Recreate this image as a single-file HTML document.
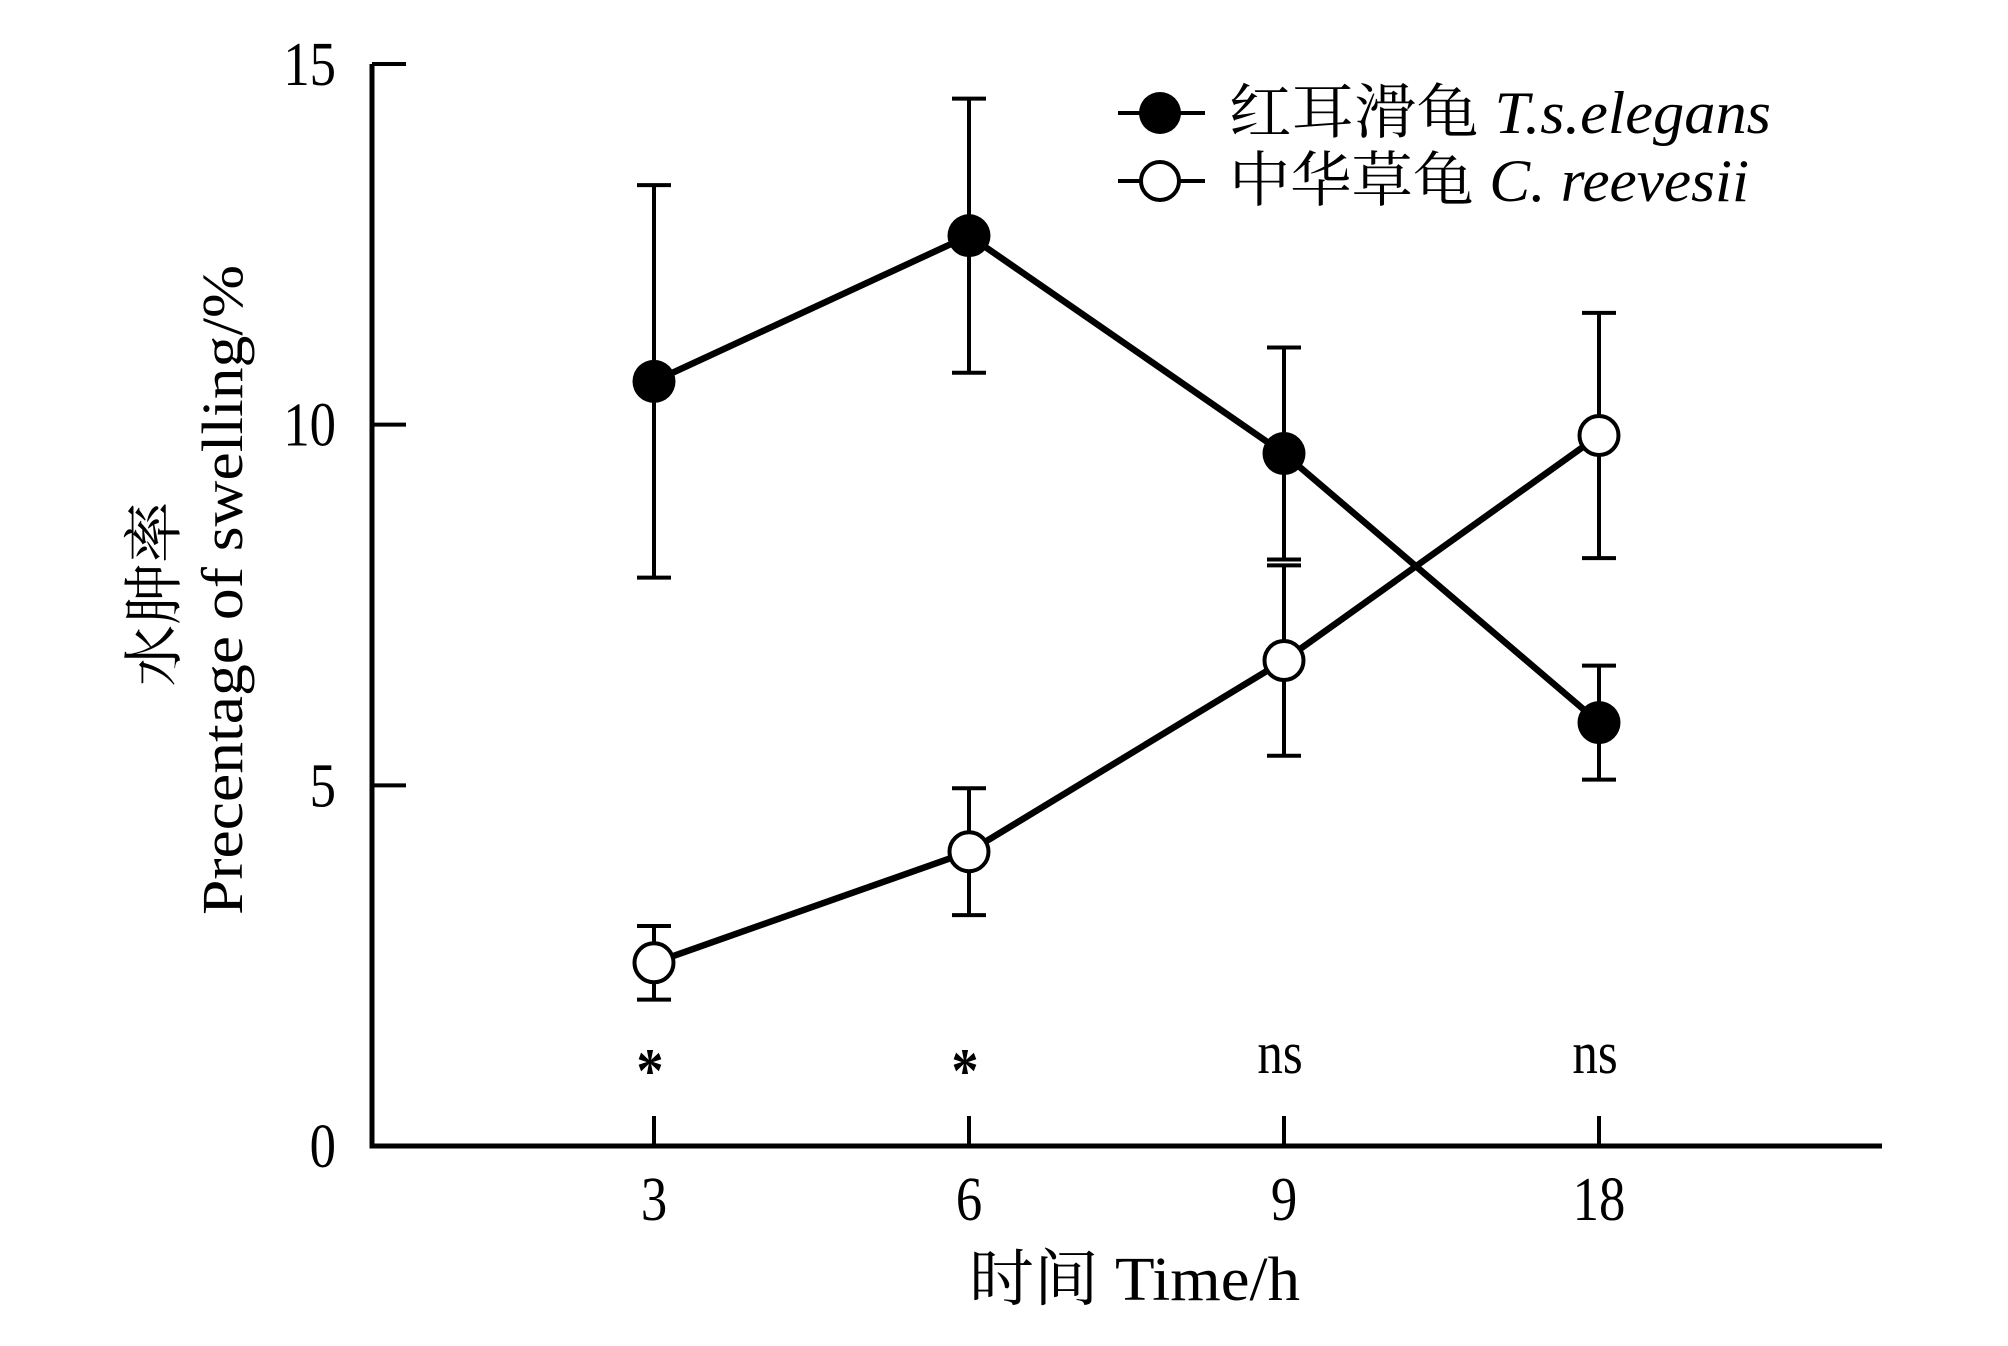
<!DOCTYPE html>
<html><head><meta charset="utf-8"><style>
html,body{margin:0;padding:0;background:#fff;}
svg{display:block;}
text{font-family:"Liberation Serif","Noto Serif CJK SC","Noto Sans CJK SC",serif;fill:#000;}
</style></head><body>
<svg id="chart" width="2008" height="1346" viewBox="0 0 2008 1346" xmlns="http://www.w3.org/2000/svg">
<g id="axes"></g>
<g id="marks"></g>
<g id="legend"></g>
</svg>
<script>
const categories = ["3","6","9","18"];
const tsMean = [10.6, 12.62, 9.6, 5.87];
const tsErr = [2.72, 1.9, 1.47, 0.79];
const crMean = [2.54, 4.08, 6.73, 9.85];
const crErr = [0.51, 0.88, 1.32, 1.7];
const yTicks = [0, 5, 10, 15];
const sigLabels = ["*", "*", "ns", "ns"];

const NS = "http://www.w3.org/2000/svg";
const X0 = 372, X1 = 1882, Y0 = 1146, YTOP = 64;
const xPos = i => 654 + i * 315;
const yPos = v => Y0 - (v / 15) * (Y0 - YTOP);
function mk(tag, attrs, parent){ const e=document.createElementNS(NS,tag); for(const k in attrs) e.setAttribute(k,attrs[k]); parent.appendChild(e); return e; }
const axes=document.getElementById('axes'), marks=document.getElementById('marks'), legend=document.getElementById('legend');

// axes
let a=mk('path',{d:`M${X0} ${YTOP} V${Y0} H${X1}`,fill:'none',stroke:'#000','stroke-width':5},axes);
 
yTicks.forEach(v=>{
  const y=yPos(v);
  const t=mk('line',{x1:X0,x2:X0+34,y1:y,y2:y,stroke:'#000','stroke-width':4},axes);
   
  const l=mk('text',{x:336,y:y+21,'text-anchor':'end','font-size':62},axes);
   
  l.textContent=String(v);
  l.setAttribute('transform',`translate(${336*0.15},0) scale(0.85,1)`);
});
categories.forEach((c,i)=>{
  const x=xPos(i);
  const t=mk('line',{x1:x,x2:x,y1:Y0,y2:Y0-30,stroke:'#000','stroke-width':4},axes);
   
  const l=mk('text',{x:x/0.85,y:1220,'text-anchor':'middle','font-size':62,transform:'scale(0.85,1)'},axes);
   
  l.textContent=c;
  const s=mk('text',{x:(x-4)/0.85,y:sigLabels[i]==='*'?1092:1073,'text-anchor':'middle','font-size':sigLabels[i]==='*'?64:60,'font-weight':sigLabels[i]==='*'?'bold':'normal',transform:'scale(0.85,1)'},axes);
   
  s.textContent=sigLabels[i];
});
let xt=mk('text',{x:969,y:1300,'font-size':62,textLength:331,lengthAdjust:'spacingAndGlyphs'},axes);
 
xt.textContent='时间 Time/h';
let yt1=mk('text',{x:0,y:0,'font-size':60,'text-anchor':'middle',transform:'translate(175,594) rotate(-90)',textLength:185,lengthAdjust:'spacingAndGlyphs'},axes);
 
yt1.textContent='水肿率';
let yt2=mk('text',{x:0,y:0,'font-size':58,'text-anchor':'middle',transform:'translate(242,590) rotate(-90)',textLength:650,lengthAdjust:'spacingAndGlyphs'},axes);
 
yt2.textContent='Precentage of swelling/%';

function series(mean, err, filled, name){
  const g=mk('g',{},marks);
   
  mean.forEach((m,i)=>{
    const x=xPos(i), yt=yPos(m+err[i]), yb=yPos(m-err[i]);
    const e=mk('path',{d:`M${x} ${yt} V${yb} M${x-17} ${yt} H${x+17} M${x-17} ${yb} H${x+17}`,stroke:'#000','stroke-width':4,fill:'none'},g);
     
  });
  const p=mk('polyline',{points:mean.map((m,i)=>`${xPos(i)},${yPos(m)}`).join(' '),fill:'none',stroke:'#000','stroke-width':6.5},g);
   
  mean.forEach((m,i)=>{
    const c=mk('circle',{cx:xPos(i),cy:yPos(m),r:filled?21.5:19.5,fill:filled?'#000':'#fff',stroke:'#000','stroke-width':filled?0:4},g);
     
  });
}
series(tsMean,tsErr,true,'t-s-elegans');
series(crMean,crErr,false,'c-reevesii');

// legend
[[113,true,'红耳滑龟 ','T.s.elegans',542],[181,false,'中华草龟 ','C. reevesii',520]].forEach(([y,f,cn,la,w])=>{
  const g=mk('g',{},legend);
   
  const l=mk('line',{x1:1118,x2:1205,y1:y,y2:y,stroke:'#000','stroke-width':4},g);
   
  const c=mk('circle',{cx:1160,cy:y,r:f?21:19,fill:f?'#000':'#fff',stroke:'#000','stroke-width':f?0:4},g);
   
  const t=mk('text',{x:1229,y:y+20,'font-size':60,textLength:w,lengthAdjust:'spacingAndGlyphs'},g);
   
  const s1=mk('tspan',{},t); s1.textContent=cn;
  const s2=mk('tspan',{'font-style':'italic'},t); s2.textContent=la;
});
</script>
</body></html>
